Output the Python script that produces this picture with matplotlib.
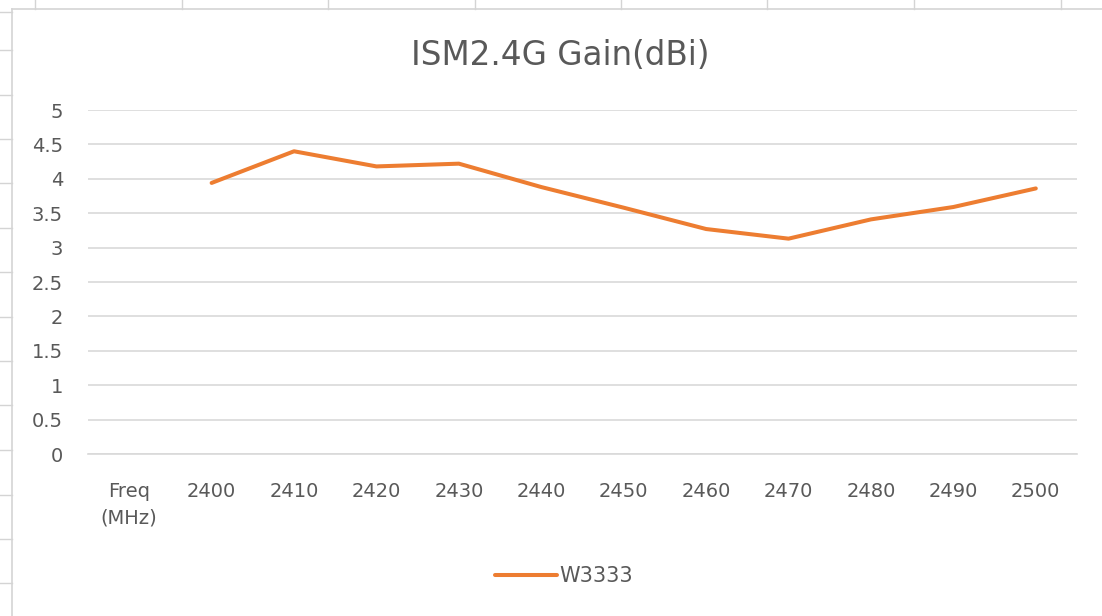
import numpy as np
import matplotlib.pyplot as plt
from matplotlib.lines import Line2D

# categories on the x axis (first one is the header cell, no value)
categories = ["Freq\n(MHz)", "2400", "2410", "2420", "2430", "2440",
              "2450", "2460", "2470", "2480", "2490", "2500"]
gain = [np.nan, 3.94, 4.40, 4.18, 4.22, 3.88, 3.58, 3.27, 3.13, 3.41, 3.59, 3.86]
series_name = "W3333"
y_ticks = [0, 0.5, 1, 1.5, 2, 2.5, 3, 3.5, 4, 4.5, 5]
y_labels = ["0", "0.5", "1", "1.5", "2", "2.5", "3", "3.5", "4", "4.5", "5"]

plt.rcParams['font.family'] = ['DejaVu Sans']
text_color = '#595959'
grid_color = '#D9D9D9'
orange = '#ED7D31'

W, H = 1102, 616
fig = plt.figure(figsize=(W / 100, H / 100), dpi=100)

# spreadsheet background: cell marks on the top and left edge
for x in [35, 182, 328, 475, 621, 767, 914, 1061]:
    fig.add_artist(Line2D([x / W, x / W], [1, 1 - 9 / H], color='#D4D4D4', lw=1))
for y in [12, 50, 95, 139, 183, 228, 272, 317, 361, 405, 450, 495, 539, 583]:
    fig.add_artist(Line2D([0, 12 / W], [1 - y / H, 1 - y / H], color='#D4D4D4', lw=1))
# chart area border
fig.add_artist(Line2D([12 / W, 12 / W], [0, 1 - 9 / H], color='#D4D4D4', lw=1.2))
fig.add_artist(Line2D([12 / W, 1], [1 - 9 / H, 1 - 9 / H], color='#D4D4D4', lw=1.2))

left, right, top, bottom = 88, 1077, 110, 454
ax = fig.add_axes([left / W, 1 - bottom / H, (right - left) / W, (bottom - top) / H])

x = np.arange(len(categories))
ax.plot(x, gain, color=orange, lw=2.9, solid_capstyle='round', solid_joinstyle='round')

ax.set_xlim(-0.5, len(categories) - 0.5)
ax.set_ylim(0, 5)
ax.set_yticks(y_ticks)
ax.set_yticklabels(y_labels)
ax.set_xticks(x)
ax.set_xticklabels(categories, linespacing=1.5)
ax.grid(axis='y', color=grid_color, lw=1.2)
ax.set_axisbelow(True)
for s in ax.spines.values():
    s.set_visible(False)
ax.spines['bottom'].set_visible(True)
ax.spines['bottom'].set_color(grid_color)
ax.spines['bottom'].set_linewidth(1.2)
ax.tick_params(axis='both', length=0, labelsize=14, labelcolor=text_color)
ax.tick_params(axis='y', pad=18)
ax.tick_params(axis='x', pad=20)

fig.text(560 / W, 1 - 65 / H, "ISM2.4G Gain(dBi)", ha='center', va='baseline',
         fontsize=23.5, color=text_color)

handle = Line2D([], [], color=orange, lw=2.9, solid_capstyle='round')
fig.legend([handle], [series_name], loc='center', bbox_to_anchor=(564 / W, 1 - 576 / H),
           frameon=False, handlelength=3.0, handletextpad=0.1, fontsize=15,
           labelcolor=text_color)

fig.savefig('out.png', dpi=100, facecolor='white')
